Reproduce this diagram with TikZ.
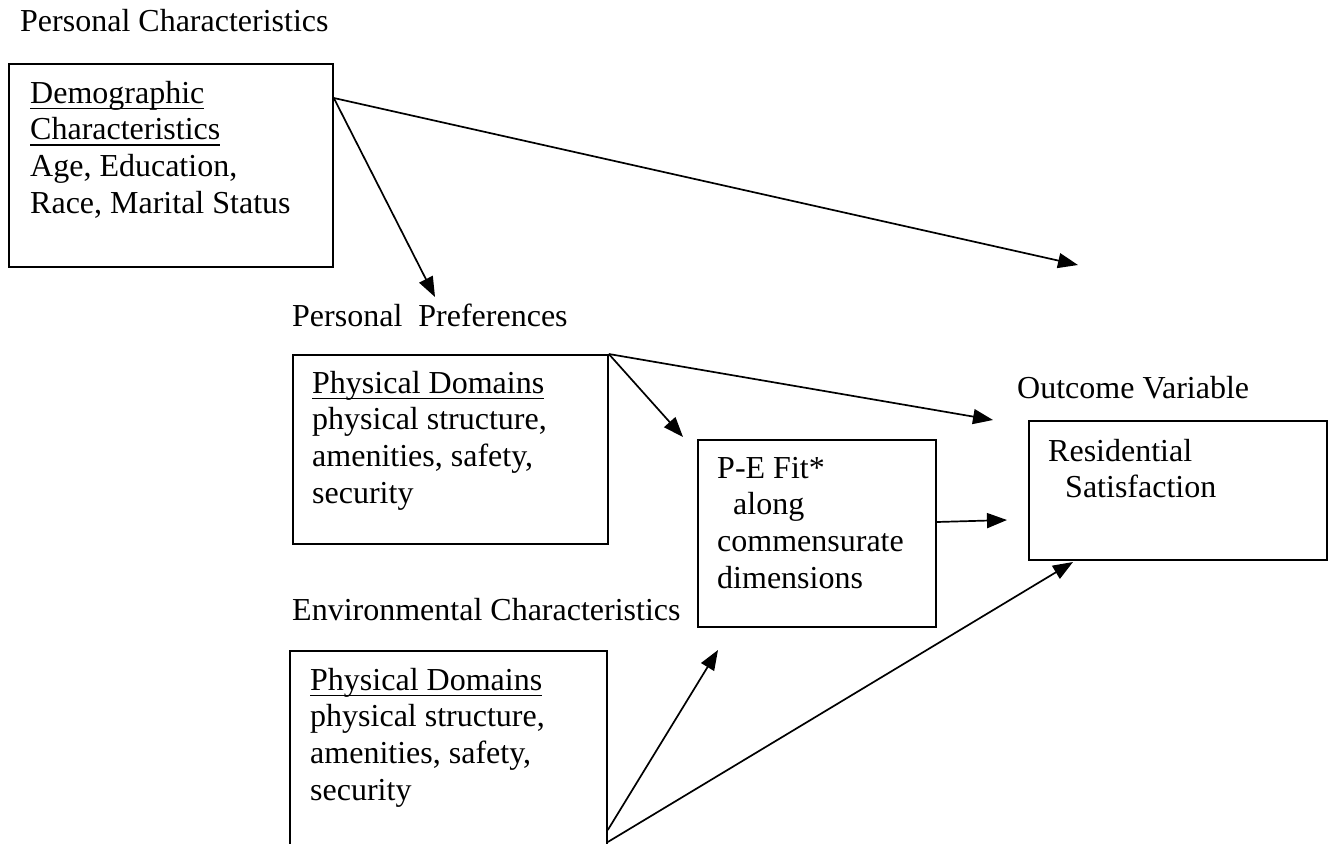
\documentclass[tikz,border=0pt]{standalone}
\usepackage{fontspec}
\setmainfont{Liberation Serif}
\usetikzlibrary{arrows.meta}
\newcommand\myul[1]{\setbox0\hbox{#1}\rlap{\rule[-6pt]{\wd0}{1.4pt}}\box0}
\newcommand\mylines[1]{\begin{tabular}[t]{@{}l@{}}#1\end{tabular}}
\tikzset{
  box/.style={draw, line width=1.8pt, rectangle, inner sep=0pt, anchor=north west},
  txt/.style={anchor=base west, inner sep=0pt, font=\fontsize{32}{36.7}\selectfont},
  conn/.style={line width=1.7pt, -{Triangle[length=20pt,width=15pt]}},
}
\begin{document}
\begin{tikzpicture}[x=1pt,y=-1pt]
\path[use as bounding box, clip] (0,0) rectangle (1335,843);
\fill[white] (0,0) rectangle (1335,843);

% labels
\node[txt] (lpc) at (20,32) {Personal Characteristics};
\node[txt] (lpp) at (292,326) {Personal\ \ Preferences};
\node[txt] (lec) at (292,620) {Environmental Characteristics};
\node[txt] (lov) at (1017,398) {Outcome Variable};

% boxes
\node[box, minimum width=324pt, minimum height=203pt] (demo) at (8,63) {};
\node[box, minimum width=315pt, minimum height=189pt] (pref) at (292,354) {};
\node[box, minimum width=238pt, minimum height=187pt] (pe) at (697,439) {};
\node[box, minimum width=298pt, minimum height=139pt] (res) at (1028,420) {};
\node[box, minimum width=317pt, minimum height=230pt] (env) at (289,650) {};

% texts
\node[txt] (tdemo) at (30,103) {\mylines{\myul{Demographic}\\\myul{Characteristics}\\Age, Education,\\Race, Marital Status}};
\node[txt] (tpref) at (312,393) {\mylines{\myul{Physical Domains}\\physical structure,\\amenities, safety,\\security}};
\node[txt] (tpe) at (717,478) {\mylines{P-E Fit*\\\hspace*{16pt}along\\commensurate\\dimensions}};
\node[txt] (tres) at (1048,461) {\mylines{Residential\\\hspace*{17pt}Satisfaction}};
\node[txt] (tenv) at (310,690) {\mylines{\myul{Physical Domains}\\physical structure,\\amenities, safety,\\security}};

% free ends
\coordinate (s1) at (demo.east |- 0,98);
\coordinate (t1) at (1078,265);
\coordinate (t2) at (435,297);
\coordinate (t3) at (683,437);
\coordinate (t4) at (993,420);
\coordinate (s5) at (pe.east |- 0,522);
\coordinate (t5) at (1007,520);
\coordinate (s6) at (env.east |- 0,830);
\coordinate (t6) at (718,650);
\coordinate (s7) at (env.east |- 0,842);
\coordinate (t7) at (1073,562);

\draw[conn] (s1) -- (t1);
\draw[conn] (s1) -- (t2);
\draw[conn] (pref.north east) -- (t3);
\draw[conn] (pref.north east) -- (t4);
\draw[conn] (s5) -- (t5);
\draw[conn] (s6) -- (t6);
\draw[conn] (s7) -- (t7);
\end{tikzpicture}
\end{document}
